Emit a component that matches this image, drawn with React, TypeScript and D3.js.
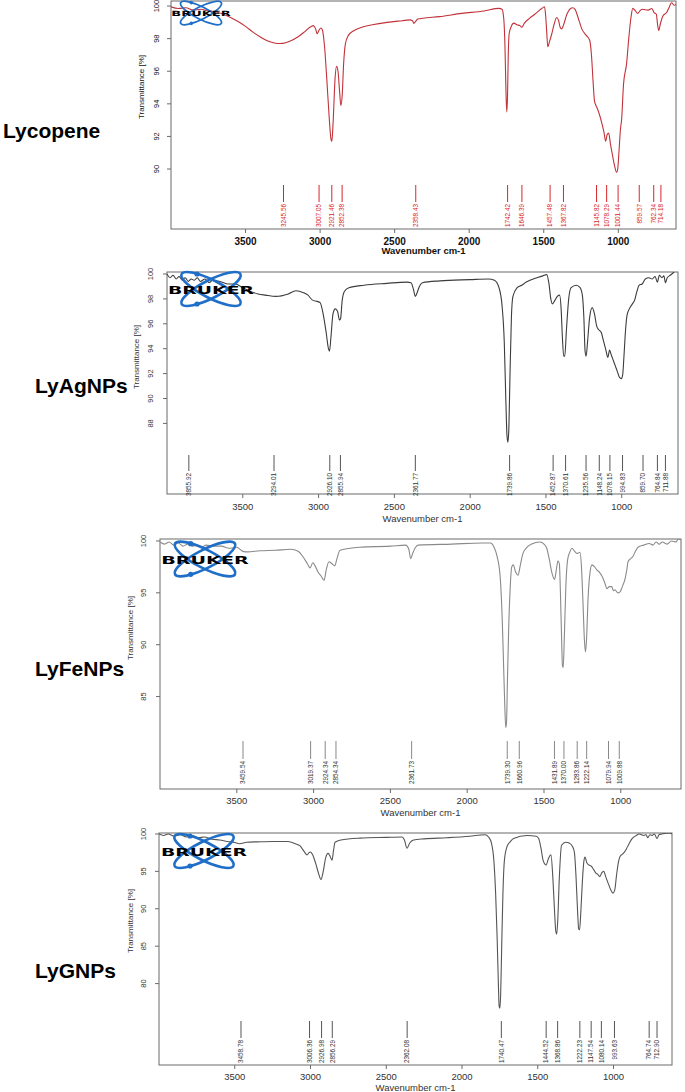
import React from 'react';
import * as d3 from 'd3';

type Pt = [number, number];

const xTicks = [3500, 3000, 2500, 2000, 1500, 1000];
const panelNames = ['Lycopene', 'LyAgNPs', 'LyFeNPs', 'LyGNPs'];

const lycopeneSpectrum: Pt[] = [
  [4000, 99.95], [3950, 99.85], [3900, 99.9], [3850, 99.75], [3800, 99.8], [3750, 99.7], [3700, 99.65],
  [3650, 99.5], [3600, 99.3], [3550, 99.05], [3500, 98.75], [3450, 98.4], [3400, 98.1], [3350, 97.85],
  [3300, 97.72], [3270, 97.7], [3230, 97.75], [3200, 97.85], [3150, 98.1], [3100, 98.45], [3060, 98.75],
  [3045, 98.8], [3030, 98.6], [3020, 98.3], [3008, 98.5], [2995, 98.65], [2985, 98.55], [2970, 97.5],
  [2955, 95.5], [2940, 93.3], [2928, 91.9], [2921, 91.7], [2912, 93.0], [2900, 95.5], [2890, 96.3],
  [2880, 96.0], [2868, 94.6], [2861, 93.9], [2852, 94.5], [2842, 96.5], [2830, 97.7], [2810, 98.2],
  [2780, 98.45], [2720, 98.7], [2650, 98.85], [2550, 99.0], [2450, 99.1], [2398, 99.15], [2380, 99.1],
  [2371, 98.94], [2360, 99.05], [2345, 99.2], [2311, 99.25], [2200, 99.35], [2050, 99.55], [1900, 99.7],
  [1800, 99.86], [1780, 99.8], [1768, 99.2], [1760, 97.5], [1754, 95.0], [1748, 93.5], [1743, 94.5],
  [1738, 97.0], [1732, 98.3], [1720, 98.7], [1700, 98.95], [1680, 98.85], [1660, 98.8], [1647, 98.7],
  [1630, 98.95], [1594, 99.26], [1560, 99.5], [1520, 99.8], [1495, 99.96], [1488, 99.5], [1480, 98.4],
  [1473, 97.5], [1462, 97.8], [1446, 98.3], [1430, 98.9], [1413, 99.3], [1400, 99.1], [1390, 98.7],
  [1380, 98.6], [1365, 98.9], [1345, 99.5], [1320, 99.85], [1306, 99.9], [1290, 99.8], [1270, 99.3],
  [1245, 98.6], [1215, 98.2], [1192, 97.9], [1180, 97.0], [1170, 95.5], [1160, 94.2], [1150, 93.9],
  [1140, 93.7], [1125, 93.3], [1110, 92.8], [1095, 92.2], [1085, 91.7], [1075, 92.1], [1065, 92.2],
  [1052, 91.5], [1038, 90.8], [1025, 90.2], [1012, 89.8], [1004, 90.0], [996, 91.0], [985, 92.5],
  [978, 93.0], [965, 95.2], [944, 96.5], [930, 98.0], [915, 99.3], [903, 99.86], [885, 99.7], [870, 99.55],
  [855, 99.7], [840, 99.8], [800, 99.75], [775, 99.85], [760, 99.6], [745, 99.5], [737, 98.9], [729, 98.5],
  [718, 98.9], [700, 99.4], [676, 99.6], [660, 99.9], [643, 100.2], [625, 100.05], [613, 100.1],
];

const agSpectrum: Pt[] = [
  [4000, 100.0], [3980, 99.7], [3960, 99.9], [3940, 99.6], [3920, 99.8], [3900, 99.5], [3880, 99.7],
  [3860, 99.4], [3840, 99.6], [3820, 99.5], [3800, 99.7], [3780, 99.4], [3750, 99.6], [3720, 99.3],
  [3700, 99.5], [3650, 99.4], [3600, 99.2], [3550, 99.2], [3500, 98.9], [3450, 98.6], [3400, 98.4],
  [3350, 98.3], [3280, 98.2], [3200, 98.4], [3150, 98.65], [3100, 98.5], [3070, 98.3], [3040, 97.9],
  [3010, 97.8], [2990, 97.7], [2970, 96.8], [2950, 95.3], [2935, 94.0], [2928, 93.8], [2918, 95.0],
  [2905, 96.8], [2890, 97.2], [2875, 97.0], [2862, 96.3], [2855, 96.4], [2845, 97.8], [2830, 98.6],
  [2800, 98.9], [2700, 99.1], [2550, 99.25], [2420, 99.35], [2390, 99.3], [2375, 98.8], [2362, 98.2],
  [2350, 98.5], [2335, 99.0], [2315, 99.3], [2200, 99.45], [2000, 99.55], [1880, 99.6], [1840, 99.5],
  [1810, 98.9], [1790, 97.5], [1775, 94.5], [1765, 90.0], [1757, 87.0], [1751, 86.5], [1745, 87.5],
  [1738, 91.5], [1728, 96.5], [1718, 98.2], [1690, 98.9], [1660, 99.1], [1630, 99.35], [1560, 99.7],
  [1520, 99.85], [1495, 99.95], [1480, 99.2], [1468, 98.0], [1458, 97.6], [1440, 97.9], [1425, 98.2],
  [1410, 98.3], [1400, 97.2], [1392, 95.0], [1383, 93.4], [1376, 93.4], [1365, 95.5], [1350, 98.0],
  [1334, 98.9], [1300, 99.1], [1275, 98.9], [1260, 98.3], [1250, 96.5], [1242, 93.8], [1235, 93.4],
  [1226, 94.5], [1212, 96.5], [1195, 97.3], [1180, 96.8], [1165, 95.8], [1150, 95.5], [1135, 95.3],
  [1120, 94.6], [1105, 93.9], [1092, 93.3], [1080, 93.9], [1072, 93.6], [1060, 93.2], [1045, 92.7],
  [1030, 92.2], [1015, 91.7], [1003, 91.6], [994, 91.9], [985, 93.5], [975, 95.5], [965, 96.7],
  [950, 97.2], [930, 97.6], [915, 97.9], [900, 98.6], [885, 99.1], [865, 99.2], [845, 99.6], [820, 99.7],
  [800, 99.6], [780, 99.8], [765, 99.35], [752, 99.9], [735, 99.7], [722, 99.85], [712, 99.3], [700, 99.7],
  [680, 99.9], [660, 100.1], [640, 100.3], [629, 100.2],
];

const feSpectrum: Pt[] = [
  [4000, 99.9], [3970, 99.7], [3940, 99.9], [3910, 99.6], [3880, 99.8], [3850, 99.5], [3820, 99.7],
  [3790, 99.5], [3760, 99.6], [3730, 99.4], [3700, 99.6], [3650, 99.5], [3600, 99.5], [3550, 99.3],
  [3500, 99.4], [3460, 99.0], [3430, 98.95], [3350, 99.05], [3250, 99.1], [3150, 99.2], [3100, 99.0],
  [3070, 98.5], [3040, 97.8], [3023, 97.4], [3005, 97.9], [2990, 97.6], [2971, 97.0], [2950, 96.6],
  [2932, 96.2], [2918, 97.2], [2900, 98.0], [2880, 97.8], [2862, 97.6], [2848, 98.3], [2828, 99.1],
  [2700, 99.4], [2500, 99.5], [2400, 99.6], [2380, 99.2], [2368, 98.3], [2355, 98.8], [2340, 99.3],
  [2320, 99.6], [2100, 99.7], [1900, 99.8], [1850, 99.8], [1825, 99.4], [1805, 98.5], [1785, 96.5],
  [1772, 92.5], [1763, 88.0], [1755, 84.0], [1749, 82.0], [1744, 82.5], [1738, 86.5], [1730, 91.5],
  [1720, 95.5], [1710, 97.5], [1700, 97.7], [1685, 97.0], [1669, 96.7], [1655, 97.6], [1637, 98.8],
  [1610, 99.4], [1580, 99.7], [1526, 99.9], [1500, 99.7], [1482, 99.3], [1465, 98.2], [1448, 96.9],
  [1431, 96.3], [1420, 97.2], [1409, 98.1], [1400, 97.8], [1393, 95.0], [1386, 91.0], [1380, 88.0],
  [1375, 87.8], [1368, 90.5], [1358, 95.5], [1346, 98.2], [1330, 99.0], [1318, 99.3], [1300, 99.0],
  [1283, 98.8], [1266, 98.9], [1256, 97.5], [1246, 94.0], [1237, 90.5], [1230, 89.3], [1223, 90.5],
  [1213, 94.5], [1200, 97.0], [1188, 97.7], [1170, 97.5], [1155, 97.2], [1140, 97.0], [1122, 96.6],
  [1105, 96.0], [1090, 95.4], [1075, 95.6], [1059, 95.6], [1048, 95.2], [1038, 95.3], [1020, 95.0],
  [1005, 95.1], [990, 95.6], [973, 96.3], [960, 97.3], [953, 98.0], [935, 98.3], [921, 98.5], [905, 99.0],
  [888, 99.4], [850, 99.6], [815, 99.75], [790, 99.6], [770, 99.9], [750, 99.7], [730, 99.9], [700, 99.7],
  [670, 100.0], [640, 99.9], [627, 100.2], [608, 100.1],
];

const gSpectrum: Pt[] = [
  [4000, 100.0], [3970, 99.8], [3940, 100.0], [3900, 99.7], [3860, 99.9], [3820, 99.6], [3780, 99.8],
  [3740, 99.5], [3700, 99.6], [3650, 99.3], [3600, 99.2], [3550, 99.0], [3500, 98.85], [3470, 98.7],
  [3420, 98.9], [3350, 98.95], [3250, 99.0], [3148, 99.0], [3100, 98.7], [3069, 98.4], [3040, 97.6],
  [3023, 97.2], [3010, 97.5], [3000, 97.6], [2985, 97.2], [2965, 96.0], [2945, 94.6], [2931, 93.9],
  [2918, 94.8], [2900, 96.8], [2884, 97.4], [2870, 97.0], [2858, 96.5], [2848, 97.8], [2838, 98.9],
  [2800, 99.2], [2673, 99.45], [2500, 99.55], [2396, 99.6], [2380, 99.2], [2363, 98.1], [2345, 98.8],
  [2320, 99.2], [2250, 99.35], [2100, 99.5], [1950, 99.7], [1848, 99.9], [1825, 99.6], [1806, 98.8],
  [1790, 96.5], [1778, 92.0], [1768, 86.0], [1760, 80.0], [1755, 77.0], [1750, 76.7], [1745, 78.5],
  [1738, 85.0], [1730, 92.0], [1720, 96.5], [1703, 98.3], [1680, 99.0], [1660, 99.4], [1571, 99.8],
  [1510, 99.7], [1494, 99.4], [1478, 98.0], [1465, 96.5], [1445, 95.85], [1428, 96.8], [1413, 97.2],
  [1400, 94.0], [1390, 90.0], [1381, 87.0], [1375, 86.6], [1368, 88.5], [1358, 94.0], [1343, 98.5],
  [1315, 98.9], [1290, 98.75], [1270, 98.3], [1258, 97.5], [1248, 94.5], [1238, 90.0], [1230, 87.3],
  [1224, 87.2], [1216, 89.5], [1206, 93.5], [1196, 96.3], [1188, 96.9], [1177, 96.2], [1166, 95.9],
  [1147, 95.7], [1130, 95.2], [1118, 94.8], [1104, 94.6], [1090, 94.3], [1078, 94.8], [1065, 95.0],
  [1050, 94.2], [1035, 93.4], [1020, 92.6], [1004, 92.1], [992, 92.5], [980, 94.5], [967, 96.3],
  [957, 97.0], [935, 97.4], [915, 98.0], [895, 98.8], [876, 99.4], [850, 99.8], [830, 100.0], [800, 99.8],
  [785, 99.9], [774, 99.5], [760, 99.9], [745, 99.8], [730, 100.0], [713, 99.4], [700, 99.9], [680, 100.0],
  [650, 100.1], [625, 100.1], [614, 100.0],
];

const lycopenePeaks = [3245.56, 3007.05, 2921.46, 2852.38, 2358.43, 1742.42, 1646.39, 1457.48, 1367.82, 1145.82, 1078.29, 1001.44, 859.57, 762.34, 714.18];
const agPeaks = [3855.92, 3294.01, 2926.10, 2855.94, 2361.77, 1739.86, 1452.87, 1370.61, 1235.56, 1148.24, 1078.15, 994.83, 859.70, 764.84, 711.88];
const fePeaks = [3459.54, 3019.37, 2924.34, 2854.34, 2361.73, 1739.30, 1660.96, 1431.89, 1370.00, 1283.86, 1222.14, 1079.94, 1009.88];
const gPeaks = [3458.78, 3006.36, 2926.98, 2856.29, 2362.08, 1740.47, 1444.52, 1368.86, 1222.23, 1147.54, 1080.14, 993.63, 764.74, 712.90];

const lycopeneYTicks = [90, 92, 94, 96, 98, 100];
const agYTicks = [88, 90, 92, 94, 96, 98, 100];
const feYTicks = [85, 90, 95, 100];
const gYTicks = [80, 85, 90, 95, 100];

const FONT = "'Liberation Sans', Arial, sans-serif";

interface Layout {
  left: number; right: number; top: number; bottom: number;
  xDomain: [number, number]; yDomain: [number, number];
  peakTop: number; peakBottom: number;
  xTickBase: number; xTitleBase: number;
  yTickX: number; yTitleX: number; yTitleY: number;
  curveColor: string; peakColor: string; peakText: string; tickText: string; tickBold: boolean;
  logo: [number, number, number];
  nameX: number; nameY: number;
}

const layouts: Layout[] = [
  {
    left: 171, right: 676, top: 1, bottom: 229, xDomain: [4000, 613], yDomain: [86.32, 100.31],
    peakTop: 185, peakBottom: 202, xTickBase: 245, xTitleBase: 254, yTickX: 159, yTitleX: 144, yTitleY: 87,
    curveColor: '#c2323a', peakColor: '#d8262b', peakText: '#d8262b', tickText: '#111', tickBold: true,
    logo: [201, 13, 0.69], nameX: 3, nameY: 138,
  },
  {
    left: 167, right: 678, top: 272, bottom: 494, xDomain: [4000, 629], yDomain: [82.33, 100.16],
    peakTop: 455, peakBottom: 471, xTickBase: 510, xTitleBase: 522, yTickX: 153, yTitleX: 139, yTitleY: 357,
    curveColor: '#3c3c3c', peakColor: '#555', peakText: '#333', tickText: '#333', tickBold: false,
    logo: [211, 289, 1], nameX: 35, nameY: 393,
  },
  {
    left: 160, right: 681, top: 539, bottom: 789, xDomain: [4000, 608], yDomain: [76.09, 100.19],
    peakTop: 741, peakBottom: 759, xTickBase: 804, xTitleBase: 816, yTickX: 146, yTitleX: 133, yTitleY: 628,
    curveColor: '#8a8a8a', peakColor: '#888', peakText: '#333', tickText: '#333', tickBold: false,
    logo: [205, 559, 1.02], nameX: 35, nameY: 676,
  },
  {
    left: 159, right: 672, top: 833, bottom: 1065, xDomain: [4000, 614], yDomain: [69.12, 100.13],
    peakTop: 1021, peakBottom: 1038, xTickBase: 1080, xTitleBase: 1091, yTickX: 146, yTitleX: 133, yTitleY: 921,
    curveColor: '#555555', peakColor: '#555', peakText: '#333', tickText: '#333', tickBold: false,
    logo: [204, 851, 1], nameX: 35, nameY: 978,
  },
];

function BrukerLogo({ cx, cy, s }: { cx: number; cy: number; s: number }) {
  const blue = '#1f6fc8';
  return (
    <g transform={`translate(${cx},${cy}) scale(${s})`}>
      <ellipse rx={33} ry={9} transform="rotate(27)" fill="none" stroke={blue} strokeWidth={2.6} />
      <ellipse rx={33} ry={9} transform="rotate(-27)" fill="none" stroke={blue} strokeWidth={2.6} />
      <circle cx={-14} cy={-15} r={2.6} fill={blue} />
      <circle cx={-14} cy={15} r={2.6} fill={blue} />
      <text x={0} y={4.8} textAnchor="middle" fontSize={10.5} fontWeight={900} fontFamily="'DejaVu Sans', Arial, sans-serif"
        textLength={86} lengthAdjust="spacingAndGlyphs" fill="#000">BRUKER</text>
    </g>
  );
}

function Panel({ idx, data, peaks, yTicks }: { idx: number; data: Pt[]; peaks: number[]; yTicks: number[] }) {
  const L = layouts[idx];
  const x = d3.scaleLinear().domain(L.xDomain).range([L.left, L.right]);
  const y = d3.scaleLinear().domain(L.yDomain).range([L.bottom, L.top]);
  const line = d3.line<Pt>().x(d => x(d[0])).y(d => y(d[1])).curve(d3.curveMonotoneX);
  const clipId = `clip-${idx}`;
  const axisColor = '#6a6a6a';
  return (
    <g>
      <defs>
        <clipPath id={clipId}>
          <rect x={L.left} y={L.top} width={L.right - L.left} height={L.bottom - L.top} />
        </clipPath>
      </defs>
      <text x={L.nameX} y={L.nameY} fontFamily={FONT} fontWeight="bold" fontSize={21} fill="#000">{panelNames[idx]}</text>
      <rect x={L.left} y={L.top} width={L.right - L.left} height={L.bottom - L.top} fill="none" stroke={axisColor} strokeWidth={1} />
      {xTicks.map(t => (
        <g key={t}>
          <line x1={x(t)} x2={x(t)} y1={L.bottom} y2={L.bottom + 4} stroke={axisColor} />
          <text x={x(t)} y={L.xTickBase} textAnchor="middle" fontFamily={FONT} fontSize={L.tickBold ? 10 : 9.5}
            fontWeight={L.tickBold ? 'bold' : 'normal'} fill={L.tickText}>{t}</text>
        </g>
      ))}
      <text x={(L.left + L.right) / 2} y={L.xTitleBase} textAnchor="middle" fontFamily={FONT} fontSize={9.5}
        fontWeight={L.tickBold ? 'bold' : 'normal'} fill={L.tickText}>Wavenumber cm-1</text>
      {yTicks.map(t => (
        <g key={t}>
          <line x1={L.left - 4} x2={L.left} y1={y(t)} y2={y(t)} stroke={axisColor} />
          <text transform={`translate(${L.yTickX},${y(t)}) rotate(-90)`} textAnchor="middle" fontFamily={FONT}
            fontSize={7.5} fill={L.tickText}>{t}</text>
        </g>
      ))}
      <text transform={`translate(${L.yTitleX},${L.yTitleY}) rotate(-90)`} textAnchor="middle" fontFamily={FONT}
        fontSize={8} fill={L.tickText}>Transmittance [%]</text>
      {peaks.map(p => (
        <g key={p}>
          <line x1={x(p)} x2={x(p)} y1={L.peakTop} y2={L.peakBottom} stroke={L.peakColor} strokeWidth={1} />
          <text transform={`translate(${x(p) + 2.3},${L.peakBottom + 2}) rotate(-90)`} textAnchor="end"
            fontFamily={FONT} fontSize={6.4} fill={L.peakText}>{p.toFixed(2)}</text>
        </g>
      ))}
      <path d={line(data) || ''} fill="none" stroke={L.curveColor} strokeWidth={1.1} clipPath={`url(#${clipId})`} />
      <BrukerLogo cx={L.logo[0]} cy={L.logo[1]} s={L.logo[2]} />
    </g>
  );
}

export default function App() {
  return (
    <svg width={685} height={1092} style={{ position: 'absolute', left: 0, top: 0, background: '#fff' }}>
      <rect x={0} y={0} width={685} height={1092} fill="#fff" />
      <Panel idx={0} data={lycopeneSpectrum} peaks={lycopenePeaks} yTicks={lycopeneYTicks} />
      <Panel idx={1} data={agSpectrum} peaks={agPeaks} yTicks={agYTicks} />
      <Panel idx={2} data={feSpectrum} peaks={fePeaks} yTicks={feYTicks} />
      <Panel idx={3} data={gSpectrum} peaks={gPeaks} yTicks={gYTicks} />
    </svg>
  );
}
